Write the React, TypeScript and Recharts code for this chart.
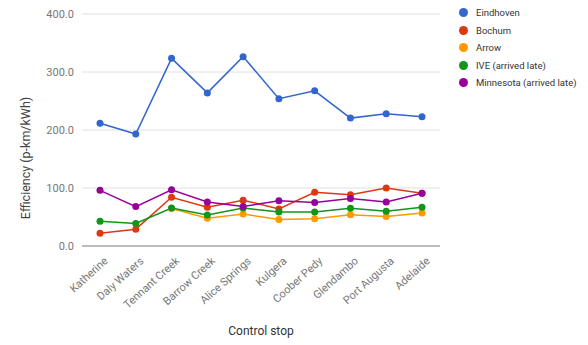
import React from 'react';
import { LineChart, Line, XAxis, YAxis, CartesianGrid, Legend } from 'recharts';

const stops = ['Katherine', 'Daly Waters', 'Tennant Creek', 'Barrow Creek', 'Alice Springs', 'Kulgera', 'Coober Pedy', 'Glendambo', 'Port Augusta', 'Adelaide'];
const eindhoven = [211.5, 193, 323.5, 264, 326.5, 254, 267.5, 220.5, 228, 223];
const bochum = [22, 29, 84, 67, 79, 64, 92.5, 88.5, 100, 91];
const arrow = [null, null, 64.5, 48, 55, 45.5, 47, 54, 51, 57];
const ive = [42.5, 39, 65.5, 53.5, 65.5, 58.5, 58.5, 65, 60, 67];
const minnesota = [96, 68, 97, 76, 68, 78, 75, 82, 76, 91];
const yTicks = [0, 100, 200, 300, 400];

const seriesDefs = [
  { key: 'Eindhoven', values: eindhoven, color: '#3366cc' },
  { key: 'Bochum', values: bochum, color: '#dc3912' },
  { key: 'Arrow', values: arrow, color: '#ff9900' },
  { key: 'IVE (arrived late)', values: ive, color: '#109618' },
  { key: 'Minnesota (arrived late)', values: minnesota, color: '#990099' },
];

const data = stops.map((s, i) => {
  const row: any = { stop: s };
  seriesDefs.forEach((d) => { row[d.key] = d.values[i]; });
  return row;
});

const FONT = 'Roboto, "Noto Sans", sans-serif';

const XTick = (props: any) => {
  const { x, y, payload } = props;
  return (
    <g transform={`translate(${x + 6},${y + 5}) rotate(-42)`}>
      <text x={0} y={0} dy="0.35em" textAnchor="end" fill="#777" fontSize={11} fontFamily={FONT}>
        {payload.value}
      </text>
    </g>
  );
};

const LegendContent = () => (
  <div style={{ fontFamily: FONT, fontSize: 9.5, color: '#333', whiteSpace: 'nowrap' }}>
    {seriesDefs.map((d) => (
      <div key={d.key} style={{ display: 'flex', alignItems: 'center', height: 17.5 }}>
        <span style={{ display: 'inline-block', width: 9, height: 9, borderRadius: 5, background: d.color, marginRight: 8, flexShrink: 0 }} />
        <span>{d.key}</span>
      </div>
    ))}
  </div>
);

export default function App() {
  return (
    <div style={{ position: 'absolute', left: 0, top: 0, background: '#fff' }}>
      <LineChart width={588} height={345} data={data} margin={{ top: 14, right: 0, left: 0, bottom: 0 }}>
        <CartesianGrid vertical={false} stroke="#e0e0e0" />
        <XAxis
          dataKey="stop"
          height={99}
          padding={{ left: 18, right: 18 }}
          tickLine={false}
          axisLine={{ stroke: '#888' }}
          interval={0}
          tick={<XTick />}
          label={{ value: 'Control stop', position: 'insideBottom', offset: 10, fill: '#333', fontSize: 12, fontFamily: FONT }}
        />
        <YAxis
          width={82}
          domain={[0, 400]}
          ticks={yTicks}
          tickFormatter={(v: number) => v.toFixed(1)}
          tickLine={false}
          axisLine={false}
          tick={{ fill: '#777', fontSize: 11, fontFamily: FONT }}
          label={{
            content: () => (
              <text transform="rotate(-90, 26, 158)" x={26} y={158} textAnchor="middle" dy="0.35em" fill="#444" fontSize={12.5} fontFamily={FONT}>
                Efficiency (p-km/kWh)
              </text>
            ),
          }}
        />
        <Legend
          layout="vertical"
          align="right"
          verticalAlign="top"
          width={148}
          wrapperStyle={{ left: 459, top: 4, right: 'auto' }}
          content={<LegendContent />}
        />
        {seriesDefs.map((d) => (
          <Line
            key={d.key}
            dataKey={d.key}
            stroke={d.color}
            strokeWidth={1.5}
            dot={{ r: 3.5, fill: d.color, stroke: d.color, strokeWidth: 0 }}
            activeDot={false}
            isAnimationActive={false}
            connectNulls={false}
          />
        ))}
      </LineChart>
    </div>
  );
}
